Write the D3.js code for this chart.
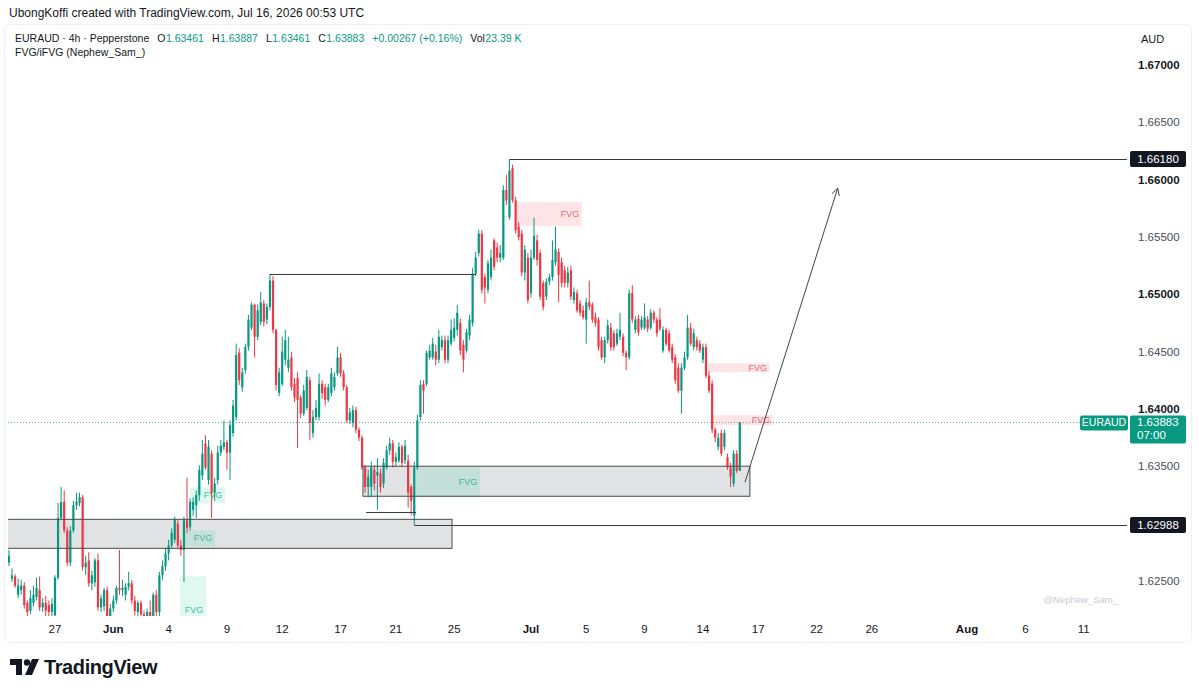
<!DOCTYPE html>
<html>
<head>
<meta charset="utf-8">
<script src="https://cdn.jsdelivr.net/npm/d3@7"></script>
<style>
  body { margin: 0; background: #fff; }
  text { font-family: "Liberation Sans", Arial, sans-serif; }
</style>
</head>
<body>
<div id="target"></div>
<script>
// 4h EURAUD candles, [open, high, low, close]
// index 0 = last candles of Fri May 22, index 238 = Jul 16 first candle
var candles = [
  [1.6266,1.6277,1.6263,1.6272],[1.6252,1.6261,1.6249,1.6255],[1.6254,1.6256,1.6244,1.6246],[1.6238,1.6252,1.6235,1.6246],
  [1.6242,1.6251,1.6238,1.6246],[1.6246,1.6249,1.6226,1.6229],[1.6231,1.6233,1.6219,1.6223],[1.6224,1.6242,1.6221,1.6235],
  [1.6231,1.6246,1.6228,1.6238],[1.6236,1.6253,1.6233,1.6244],[1.6242,1.6254,1.6224,1.6227],[1.6227,1.6235,1.6223,1.6231],
  [1.6231,1.6237,1.6217,1.6224],[1.6229,1.6233,1.6216,1.6223],[1.6223,1.6235,1.6219,1.6230],[1.6220,1.6255,1.6216,1.6253],
  [1.6253,1.6318,1.6251,1.6305],[1.6305,1.6332,1.6303,1.6319],[1.6319,1.6329,1.6292,1.6294],[1.6294,1.6297,1.6263,1.6266],
  [1.6266,1.6298,1.6263,1.6294],[1.6294,1.6320,1.6292,1.6316],[1.6316,1.6327,1.6312,1.6319],[1.6318,1.6327,1.6315,1.6323],
  [1.6323,1.6325,1.6259,1.6262],[1.6262,1.6272,1.6255,1.6266],[1.6268,1.6275,1.6245,1.6248],[1.6248,1.6259,1.6242,1.6255],
  [1.6249,1.6270,1.6245,1.6268],[1.6268,1.6274,1.6224,1.6227],[1.6227,1.6238,1.6223,1.6235],[1.6228,1.6244,1.6224,1.6242],
  [1.6242,1.6245,1.6216,1.6219],[1.6219,1.6230,1.6212,1.6226],[1.6226,1.6237,1.6223,1.6233],[1.6233,1.6246,1.6230,1.6244],
  [1.6244,1.6277,1.6238,1.6242],[1.6242,1.6251,1.6237,1.6244],[1.6238,1.6248,1.6233,1.6245],[1.6245,1.6258,1.6242,1.6248],
  [1.6248,1.6251,1.6230,1.6233],[1.6233,1.6237,1.6220,1.6224],[1.6223,1.6233,1.6218,1.6231],[1.6231,1.6233,1.6216,1.6221],
  [1.6221,1.6224,1.6209,1.6214],[1.6214,1.6226,1.6207,1.6223],[1.6223,1.6233,1.6211,1.6216],[1.6218,1.6240,1.6214,1.6238],
  [1.6238,1.6242,1.6217,1.6223],[1.6223,1.6258,1.6219,1.6255],[1.6255,1.6268,1.6251,1.6263],[1.6263,1.6279,1.6259,1.6274],
  [1.6274,1.6286,1.6268,1.6281],[1.6281,1.6296,1.6279,1.6292],[1.6286,1.6306,1.6283,1.6303],[1.6300,1.6303,1.6279,1.6281],
  [1.6281,1.6286,1.6272,1.6277],[1.6277,1.6306,1.6249,1.6303],[1.6303,1.6340,1.6292,1.6296],[1.6297,1.6322,1.6294,1.6319],
  [1.6312,1.6323,1.6307,1.6319],[1.6316,1.6329,1.6305,1.6325],[1.6325,1.6351,1.6320,1.6347],[1.6342,1.6373,1.6338,1.6361],
  [1.6370,1.6377,1.6347,1.6349],[1.6338,1.6373,1.6334,1.6367],[1.6361,1.6364,1.6305,1.6327],[1.6327,1.6340,1.6320,1.6335],
  [1.6338,1.6368,1.6334,1.6362],[1.6362,1.6373,1.6359,1.6368],[1.6367,1.6390,1.6364,1.6371],[1.6371,1.6373,1.6347,1.6362],
  [1.6362,1.6390,1.6338,1.6386],[1.6379,1.6408,1.6376,1.6403],[1.6393,1.6457,1.6390,1.6447],[1.6449,1.6453,1.6421,1.6425],
  [1.6419,1.6436,1.6415,1.6432],[1.6434,1.6457,1.6431,1.6454],[1.6454,1.6482,1.6451,1.6478],[1.6471,1.6493,1.6469,1.6491],
  [1.6491,1.6492,1.6445,1.6463],[1.6463,1.6491,1.6460,1.6486],[1.6476,1.6502,1.6473,1.6493],[1.6492,1.6495,1.6472,1.6476],
  [1.6478,1.6492,1.6474,1.6489],[1.6489,1.6518,1.6486,1.6512],[1.6512,1.6516,1.6466,1.6469],[1.6469,1.6470,1.6416,1.6421],
  [1.6414,1.6436,1.6411,1.6432],[1.6422,1.6463,1.6420,1.6450],[1.6443,1.6469,1.6438,1.6460],[1.6436,1.6463,1.6432,1.6443],
  [1.6445,1.6450,1.6416,1.6419],[1.6422,1.6427,1.6406,1.6410],[1.6427,1.6432,1.6366,1.6408],[1.6410,1.6412,1.6392,1.6396],
  [1.6396,1.6421,1.6394,1.6416],[1.6401,1.6434,1.6399,1.6428],[1.6425,1.6428,1.6373,1.6388],[1.6379,1.6399,1.6375,1.6393],
  [1.6393,1.6408,1.6390,1.6401],[1.6393,1.6431,1.6390,1.6422],[1.6422,1.6425,1.6409,1.6414],[1.6419,1.6422,1.6403,1.6408],
  [1.6408,1.6422,1.6406,1.6419],[1.6414,1.6436,1.6411,1.6431],[1.6419,1.6432,1.6416,1.6428],[1.6431,1.6454,1.6429,1.6445],
  [1.6445,1.6449,1.6428,1.6431],[1.6431,1.6434,1.6416,1.6419],[1.6419,1.6421,1.6388,1.6390],[1.6390,1.6401,1.6387,1.6397],
  [1.6388,1.6403,1.6384,1.6399],[1.6399,1.6402,1.6379,1.6382],[1.6382,1.6384,1.6372,1.6375],[1.6375,1.6377,1.6347,1.6349],
  [1.6349,1.6351,1.6327,1.6332],[1.6332,1.6347,1.6323,1.6341],[1.6332,1.6354,1.6323,1.6349],[1.6347,1.6351,1.6329,1.6335],
  [1.6342,1.6357,1.6312,1.6345],[1.6344,1.6348,1.6327,1.6332],[1.6335,1.6357,1.6331,1.6353],[1.6349,1.6368,1.6347,1.6364],
  [1.6364,1.6375,1.6360,1.6370],[1.6370,1.6373,1.6349,1.6354],[1.6354,1.6362,1.6350,1.6358],[1.6355,1.6371,1.6353,1.6367],
  [1.6367,1.6369,1.6350,1.6353],[1.6355,1.6373,1.6352,1.6368],[1.6355,1.6360,1.6314,1.6327],[1.6332,1.6334,1.6307,1.6320],
  [1.6307,1.6354,1.62988,1.6349],[1.6349,1.6395,1.6347,1.6390],[1.6393,1.6425,1.6390,1.6421],[1.6422,1.6425,1.6396,1.6416],
  [1.6422,1.6451,1.6420,1.6449],[1.6445,1.6456,1.6443,1.6451],[1.6445,1.6462,1.6443,1.6457],[1.6450,1.6456,1.6438,1.6443],
  [1.6443,1.6469,1.6440,1.6463],[1.6454,1.6464,1.6451,1.6460],[1.6460,1.6464,1.6440,1.6443],[1.6443,1.6464,1.6440,1.6460],
  [1.6457,1.6478,1.6455,1.6469],[1.6462,1.6479,1.6459,1.6471],[1.6469,1.6491,1.6464,1.6484],[1.6475,1.6479,1.6447,1.6451],
  [1.6456,1.6460,1.6432,1.6443],[1.6451,1.6470,1.6449,1.6467],[1.6464,1.6482,1.6460,1.6478],[1.6475,1.6523,1.6472,1.6518],
  [1.6518,1.6537,1.6516,1.6532],[1.6536,1.6556,1.6533,1.6553],[1.6553,1.6556,1.6501,1.6504],[1.6515,1.6518,1.6492,1.6506],
  [1.6504,1.6530,1.6501,1.6527],[1.6515,1.6539,1.6512,1.6532],[1.6547,1.6549,1.6521,1.6524],[1.6541,1.6545,1.6528,1.6532],
  [1.6532,1.6543,1.6528,1.6536],[1.6532,1.6595,1.6530,1.6591],[1.6591,1.6604,1.6578,1.6582],[1.6567,1.66180,1.6565,1.6608],
  [1.6610,1.6613,1.6580,1.6582],[1.6582,1.6585,1.6553,1.6556],[1.6559,1.6563,1.6547,1.6550],[1.6553,1.6556,1.6516,1.6519],
  [1.6519,1.6543,1.6512,1.6539],[1.6532,1.6536,1.6492,1.6495],[1.6501,1.6539,1.6497,1.6532],[1.6532,1.6567,1.6530,1.6551],
  [1.6547,1.6552,1.6525,1.6530],[1.6536,1.6539,1.6495,1.6498],[1.6510,1.6512,1.6486,1.6489],[1.6498,1.6514,1.6495,1.6511],
  [1.6511,1.6518,1.6508,1.6515],[1.6515,1.6547,1.6512,1.6530],[1.6528,1.6559,1.6525,1.6539],[1.6537,1.6540,1.6493,1.6517],
  [1.6528,1.6532,1.6506,1.6510],[1.6521,1.6525,1.6506,1.6510],[1.6510,1.6524,1.6506,1.6519],[1.6521,1.6525,1.6495,1.6498],
  [1.6495,1.6506,1.6492,1.6502],[1.6501,1.6504,1.6484,1.6486],[1.6492,1.6495,1.6481,1.6484],[1.6486,1.6490,1.6478,1.6480],
  [1.6478,1.6497,1.6457,1.6493],[1.6493,1.6512,1.6486,1.6489],[1.6491,1.6493,1.6475,1.6478],[1.6480,1.6484,1.6472,1.6475],
  [1.6478,1.6480,1.6451,1.6454],[1.6460,1.6463,1.6443,1.6445],[1.6445,1.6463,1.6440,1.6460],[1.6460,1.6478,1.6457,1.6473],
  [1.6471,1.6475,1.6451,1.6454],[1.6466,1.6469,1.6451,1.6454],[1.6457,1.6470,1.6455,1.6466],[1.6463,1.6484,1.6460,1.6469],
  [1.6463,1.6466,1.6446,1.6449],[1.6449,1.6451,1.6434,1.6445],[1.6445,1.6504,1.6443,1.6501],[1.6501,1.6508,1.6475,1.6478],
  [1.6469,1.6481,1.6466,1.6478],[1.6479,1.6482,1.6464,1.6467],[1.6471,1.6481,1.6469,1.6478],[1.6471,1.6492,1.6469,1.6480],
  [1.6478,1.6481,1.6467,1.6470],[1.6471,1.6487,1.6469,1.6484],[1.6484,1.6486,1.6475,1.6478],[1.6478,1.6480,1.6463,1.6466],
  [1.6478,1.6488,1.6468,1.6470],[1.6451,1.6472,1.6449,1.6469],[1.6469,1.6471,1.6455,1.6457],[1.6466,1.6469,1.6449,1.6451],
  [1.6454,1.6457,1.6440,1.6443],[1.6445,1.6448,1.6422,1.6425],[1.6436,1.6440,1.6414,1.6416],[1.6416,1.6440,1.6396,1.6436],
  [1.6436,1.6450,1.6434,1.6445],[1.6445,1.6482,1.6443,1.6471],[1.6471,1.6475,1.6455,1.6457],[1.6454,1.6470,1.6451,1.6466],
  [1.6460,1.6463,1.6451,1.6454],[1.6457,1.6460,1.6449,1.6451],[1.6443,1.6457,1.6440,1.6454],[1.6454,1.6457,1.6427,1.6429],
  [1.6429,1.6433,1.6414,1.6416],[1.6422,1.6425,1.6379,1.6382],[1.6382,1.6384,1.6371,1.6375],[1.6367,1.6379,1.6364,1.6375],
  [1.6379,1.6382,1.6359,1.6361],[1.6367,1.6382,1.6364,1.6379],[1.6358,1.6361,1.6347,1.6349],[1.6349,1.6353,1.6332,1.6341],
  [1.6335,1.6364,1.6332,1.6361],[1.6361,1.6364,1.6344,1.6346],[1.63461,1.63887,1.63461,1.63883]
];

// time axis: candle index where each label sits
var timeLabels = ['27','Jun','4','9','12','17','21','25','Jul','5','9','14','17','22','26','Aug','6','11'];
var timeIndex  = [15, 34, 52, 71, 89, 108, 126, 145, 170, 188, 207, 226, 244, 263, 281, 312, 331, 350];
var monthLabels = ['Jun','Jul','Aug'];

var priceTicks = [1.625, 1.630, 1.635, 1.640, 1.645, 1.650, 1.655, 1.660, 1.665, 1.670];
var boldTicks = [1.640, 1.650, 1.660, 1.670];

// legend line: [label, value] pairs
var legendPairs = [['O', '1.63461'], ['H', '1.63887'], ['L', '1.63461'], ['C', '1.63883'],
                   ['', '+0.00267 (+0.16%)'], ['Vol', '23.39 K']];

// drawings on the chart
var levels = [
  {price: 1.6518, from: 85, to: 152.1},
  {price: 1.66180, from: 163, to: null, label: '1.66180'},
  {price: 1.62988, from: 132, to: null, label: '1.62988'},
  {price: 1.6310, from: 116.3, to: 132.6}
];
var zones = [
  {lo: 1.62785, hi: 1.63038, from: -2, to: 144.3},
  {lo: 1.63239, hi: 1.63501, from: 115.3, to: 241.3}
];
var bearFvg = [
  {lo: 1.65595, hi: 1.65804, from: 165.4, to: 186.6},
  {lo: 1.64321, hi: 1.64399, from: 227.6, to: 247.8},
  {lo: 1.63859, hi: 1.63946, from: 228.9, to: 248.8}
];
var bullFvg = [
  {lo: 1.63230, hi: 1.63492, from: 132.6, to: 153.4},
  {lo: 1.63178, hi: 1.63317, from: 59, to: 70.4},
  {lo: 1.62803, hi: 1.62942, from: 57.3, to: 67.1},
  {lo: 1.6195, hi: 1.62541, from: 55.7, to: 64.2}
];
var arrowPath = {from: 239.7, p0: 1.63361, to: 269.9, p1: 1.65926};
var lastPrice = 1.63883;

var width = 1199, height = 694;
var plotLeft = 8, plotRight = 1127, plotTop = 25, plotBottom = 616;
var upColor = '#089981', downColor = '#f23645';

var x = d3.scaleLinear().domain([-0.3, 364.1]).range([plotLeft, plotRight]);
var y = d3.scaleLinear().domain([1.625, 1.670]).range([581, 65]);

var svg = d3.select('#target').append('svg')
    .attr('width', width)
    .attr('height', height);

svg.append('defs').append('clipPath').attr('id', 'plot')
  .append('rect').attr('x', plotLeft).attr('y', plotTop)
  .attr('width', plotRight - plotLeft).attr('height', plotBottom - plotTop);

// faint frame around the chart widget
svg.append('rect').attr('x', 4.5).attr('y', 24.5).attr('width', 1187).attr('height', 618)
  .attr('rx', 6).attr('fill', 'none').attr('stroke', '#f0f1f4');

var plot = svg.append('g').attr('clip-path', 'url(#plot)');

// current price dotted line
plot.append('line')
  .attr('x1', plotLeft).attr('x2', 1080)
  .attr('y1', Math.round(y(lastPrice)) + 0.5).attr('y2', Math.round(y(lastPrice)) + 0.5)
  .attr('stroke', '#5fa898').attr('stroke-dasharray', '1,2');

// grey zone fills (under the candles)
plot.selectAll('rect.zone').data(zones).enter().append('rect')
  .attr('class', 'zone')
  .attr('x', function(d) { return x(d.from); })
  .attr('width', function(d) { return x(d.to) - x(d.from); })
  .attr('y', function(d) { return y(d.hi); })
  .attr('height', function(d) { return y(d.lo) - y(d.hi); })
  .attr('fill', '#e2e3e5');

// fvg boxes
function fvg(list, fill) {
  plot.append('g').selectAll('rect').data(list).enter().append('rect')
    .attr('x', function(d) { return x(d.from); })
    .attr('width', function(d) { return x(d.to) - x(d.from); })
    .attr('y', function(d) { return y(d.hi); })
    .attr('height', function(d) { return y(d.lo) - y(d.hi); })
    .attr('fill', fill);
}
fvg(bearFvg, 'rgba(242,54,69,0.13)');
fvg(bullFvg, 'rgba(8,200,140,0.13)');

// candles
var cg = plot.selectAll('g.candle').data(candles).enter().append('g');
cg.append('line')
  .attr('x1', function(d, i) { return x(i); })
  .attr('x2', function(d, i) { return x(i); })
  .attr('y1', function(d) { return y(d[1]); })
  .attr('y2', function(d) { return y(d[2]); })
  .attr('stroke', function(d) { return d[3] >= d[0] ? upColor : downColor; })
  .attr('stroke-width', 1);
cg.append('rect')
  .attr('x', function(d, i) { return x(i) - 1.1; })
  .attr('width', 2.2)
  .attr('y', function(d) { return y(Math.max(d[0], d[3])); })
  .attr('height', function(d) { return Math.max(1, Math.abs(y(d[0]) - y(d[3]))); })
  .attr('fill', function(d) { return d[3] >= d[0] ? upColor : downColor; });

// fvg labels
function fvgText(list, color) {
  plot.append('g').selectAll('text').data(list).enter().append('text')
    .attr('x', function(d) { return x(d.to) - 12; })
    .attr('y', function(d) { return (y(d.lo) + y(d.hi)) / 2 + 3; })
    .attr('text-anchor', 'middle')
    .attr('font-size', 9)
    .attr('fill', color)
    .text('FVG');
}
fvgText(bearFvg, 'rgba(242,54,69,0.75)');
fvgText(bullFvg, 'rgba(8,170,130,0.75)');

// grey zone borders
plot.selectAll('rect.zoneline').data(zones).enter().append('rect')
  .attr('x', function(d) { return x(d.from); })
  .attr('width', function(d) { return x(d.to) - x(d.from); })
  .attr('y', function(d) { return y(d.hi); })
  .attr('height', function(d) { return y(d.lo) - y(d.hi); })
  .attr('fill', 'none')
  .attr('stroke', '#4a4a4a')
  .attr('stroke-width', 1);

// level lines
plot.selectAll('line.level').data(levels).enter().append('line')
  .attr('class', 'level')
  .attr('x1', function(d) { return x(d.from); })
  .attr('x2', function(d) { return d.to === null ? plotRight : x(d.to); })
  .attr('y1', function(d) { return Math.round(y(d.price)) + 0.5; })
  .attr('y2', function(d) { return Math.round(y(d.price)) + 0.5; })
  .attr('stroke', '#3a3a3a')
  .attr('stroke-width', 1);

// projection arrow
var ax0 = x(arrowPath.from), ay0 = y(arrowPath.p0), ax1 = x(arrowPath.to), ay1 = y(arrowPath.p1);
plot.append('line').attr('x1', ax0).attr('y1', ay0).attr('x2', ax1).attr('y2', ay1)
  .attr('stroke', '#444').attr('stroke-width', 1);
var ang = Math.atan2(ay1 - ay0, ax1 - ax0);
[-0.5, 0.5].forEach(function(a) {
  plot.append('line')
    .attr('x1', ax1).attr('y1', ay1)
    .attr('x2', ax1 - 8 * Math.cos(ang + a)).attr('y2', ay1 - 8 * Math.sin(ang + a))
    .attr('stroke', '#444').attr('stroke-width', 1);
});

// watermark
svg.append('text').attr('x', 1118).attr('y', 603).attr('text-anchor', 'end')
  .attr('font-size', 9.5).attr('fill', '#c9cbd1').text('@Nephew_Sam_');

// price axis
var labelled = levels.filter(function(d) { return d.label; });
var shown = priceTicks.filter(function(p) {
  return !labelled.some(function(l) { return Math.abs(y(l.price) - y(p)) < 12; });
});
svg.append('g').selectAll('text').data(shown).enter().append('text')
  .attr('x', 1138)
  .attr('y', function(d) { return y(d) + 4; })
  .attr('font-size', 11.5)
  .attr('font-weight', function(d) { return boldTicks.indexOf(d) >= 0 ? 700 : 400; })
  .attr('fill', function(d) { return boldTicks.indexOf(d) >= 0 ? '#131722' : '#4a4e59'; })
  .text(function(d) { return d.toFixed(5); });

svg.append('text').attr('x', 1141).attr('y', 43).attr('font-size', 11).attr('fill', '#131722').text('AUD');

var lbl = svg.append('g').selectAll('g').data(labelled).enter().append('g');
lbl.append('rect').attr('x', 1130).attr('width', 56)
  .attr('y', function(d) { return y(d.price) - 8; }).attr('height', 16)
  .attr('rx', 2).attr('fill', '#131722');
lbl.append('text').attr('x', 1158).attr('y', function(d) { return y(d.price) + 4; })
  .attr('text-anchor', 'middle').attr('font-size', 11.5).attr('fill', '#fff')
  .text(function(d) { return d.label; });

// last price tags
var ly = y(lastPrice);
svg.append('rect').attr('x', 1080).attr('y', ly - 7).attr('width', 48).attr('height', 15).attr('rx', 2).attr('fill', upColor);
svg.append('text').attr('x', 1104).attr('y', ly + 4).attr('text-anchor', 'middle').attr('font-size', 10.5).attr('fill', '#fff').text('EURAUD');
svg.append('rect').attr('x', 1130).attr('y', ly - 7).attr('width', 56).attr('height', 28).attr('rx', 2).attr('fill', upColor);
svg.append('text').attr('x', 1137).attr('y', ly + 4).attr('font-size', 11.5).attr('fill', '#fff').text(lastPrice.toFixed(5));
svg.append('text').attr('x', 1137).attr('y', ly + 17).attr('font-size', 11.5).attr('fill', '#fff').text('07:00');

// time axis
svg.append('g').selectAll('text').data(timeLabels).enter().append('text')
  .attr('x', function(d, i) { return x(timeIndex[i]); })
  .attr('y', 633)
  .attr('text-anchor', 'middle')
  .attr('font-size', 11.5)
  .attr('font-weight', function(d) { return monthLabels.indexOf(d) >= 0 ? 700 : 400; })
  .attr('fill', '#131722')
  .text(function(d) { return d; });

// header
svg.append('text').attr('x', 9).attr('y', 17).attr('font-size', 12).attr('fill', '#131722')
  .text('UbongKoffi created with TradingView.com, Jul 16, 2026 00:53 UTC');

var legend = svg.append('text').attr('x', 15).attr('y', 42).attr('font-size', 10.5).attr('fill', '#131722');
legend.append('tspan').text('EURAUD · 4h · Pepperstone');
legendPairs.forEach(function(p) {
  if (p[0]) {
    legend.append('tspan').attr('dx', 8).attr('fill', '#131722').text(p[0]);
    legend.append('tspan').attr('dx', 0.5).attr('fill', upColor).text(p[1]);
  } else {
    legend.append('tspan').attr('dx', 8).attr('fill', upColor).text(p[1]);
  }
});
svg.append('text').attr('x', 15).attr('y', 56).attr('font-size', 10.5).attr('fill', '#131722')
  .text('FVG/iFVG (Nephew_Sam_)');

// TradingView logo
var logo = svg.append('g').attr('fill', '#131722');
logo.append('path').attr('d', 'M10,659 H22 V675 H16 V665 H10 Z');
logo.append('circle').attr('cx', 27).attr('cy', 662.5).attr('r', 3.2);
logo.append('path').attr('d', 'M32,659 H39 L32,675 H25 Z');
svg.append('text').attr('x', 44).attr('y', 674).attr('font-size', 20).attr('font-weight', 700)
  .attr('fill', '#131722').attr('letter-spacing', -0.4).text('TradingView');
</script>
</body>
</html>
